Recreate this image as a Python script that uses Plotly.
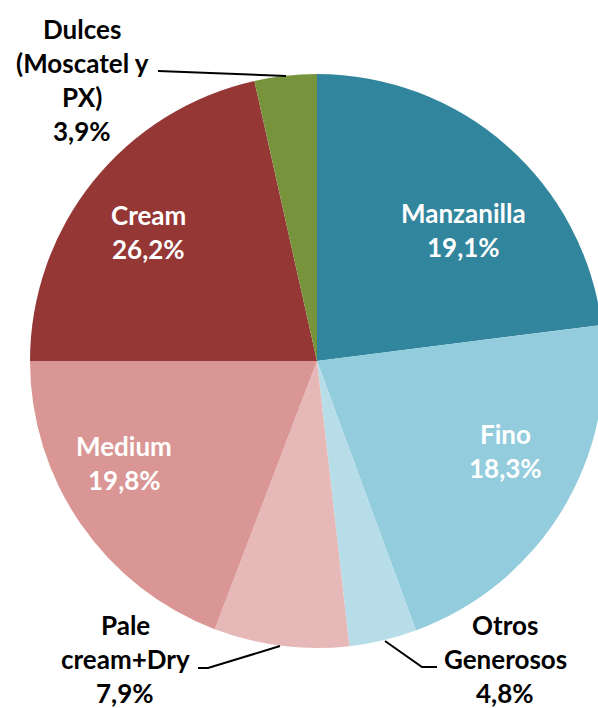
import plotly.graph_objs as go

W, H = 606, 708  # slightly wider than the window: the pie is clipped on the right like the original

# data
categories = ["Manzanilla", "Fino", "Otros Generosos", "Pale cream+Dry",
              "Medium", "Cream", "Dulces (Moscatel y PX)"]
# percentages printed on the labels
label_pct = [19.1, 18.3, 4.8, 7.9, 19.8, 26.2, 3.9]
# slice sizes as actually drawn in the picture (they do not match the labels)
slice_values = [23.0, 21.4, 3.8, 7.6, 19.2, 21.5, 3.5]
label_lines = [["Manzanilla"], ["Fino"], ["Otros", "Generosos"], ["Pale", "cream+Dry"],
               ["Medium"], ["Cream"], ["Dulces", "(Moscatel y", "PX)"]]
colors = ["#31859C", "#93CDDD", "#B7DEE8", "#E6B9B8", "#D99694", "#953735", "#77933C"]

# label placement (pixel centre x, first line y) and text colour
label_pos = [(463, 213), (505, 434), (505, 625), (125, 625), (124, 446), (148, 215), (82, 29)]
label_col = ["white", "white", "black", "black", "white", "white", "black"]
line_gap = 34

# leader lines in pixels
leaders = {
    2: [(385, 641), (422, 667), (437, 667)],
    3: [(198, 668), (208, 668), (280, 646)],
    6: [(158, 71), (286, 76)],
}

def px(x):
    return x / W

def py(y):
    return 1 - y / H

cx, cy, r = 317, 361, 287

fig = go.Figure(go.Pie(
    labels=categories, values=slice_values, sort=False, direction="clockwise",
    rotation=0, marker=dict(colors=colors, line=dict(width=0)),
    textinfo="none", showlegend=False, hoverinfo="skip",
    domain=dict(x=[px(cx - r), min(1, px(cx + r))], y=[py(cy + r), py(cy - r)]),
))

annotations = []
for i, lines in enumerate(label_lines):
    x0, y0 = label_pos[i]
    txt = lines + [f"{label_pct[i]:.1f}%".replace(".", ",")]
    for k, t in enumerate(txt):
        annotations.append(dict(
            x=px(x0), y=py(y0 + k * line_gap), xref="paper", yref="paper",
            text=f"<b>{t}</b>", showarrow=False, xanchor="center", yanchor="middle",
            font=dict(family="Lato", size=26, color=label_col[i]),
        ))

shapes = []
for i, pts in leaders.items():
    path = "M " + " L ".join(f"{px(x)},{py(y)}" for x, y in pts)
    shapes.append(dict(type="path", path=path, xref="paper", yref="paper",
                       line=dict(color="black", width=2)))

fig.update_layout(
    width=W, height=H, margin=dict(l=0, r=0, t=0, b=0),
    paper_bgcolor="white", plot_bgcolor="white",
    annotations=annotations, shapes=shapes,
)

fig.write_html("out.html", config={"displayModeBar": False},
               post_script="document.body.style.margin='0';document.body.style.overflow='hidden';")
